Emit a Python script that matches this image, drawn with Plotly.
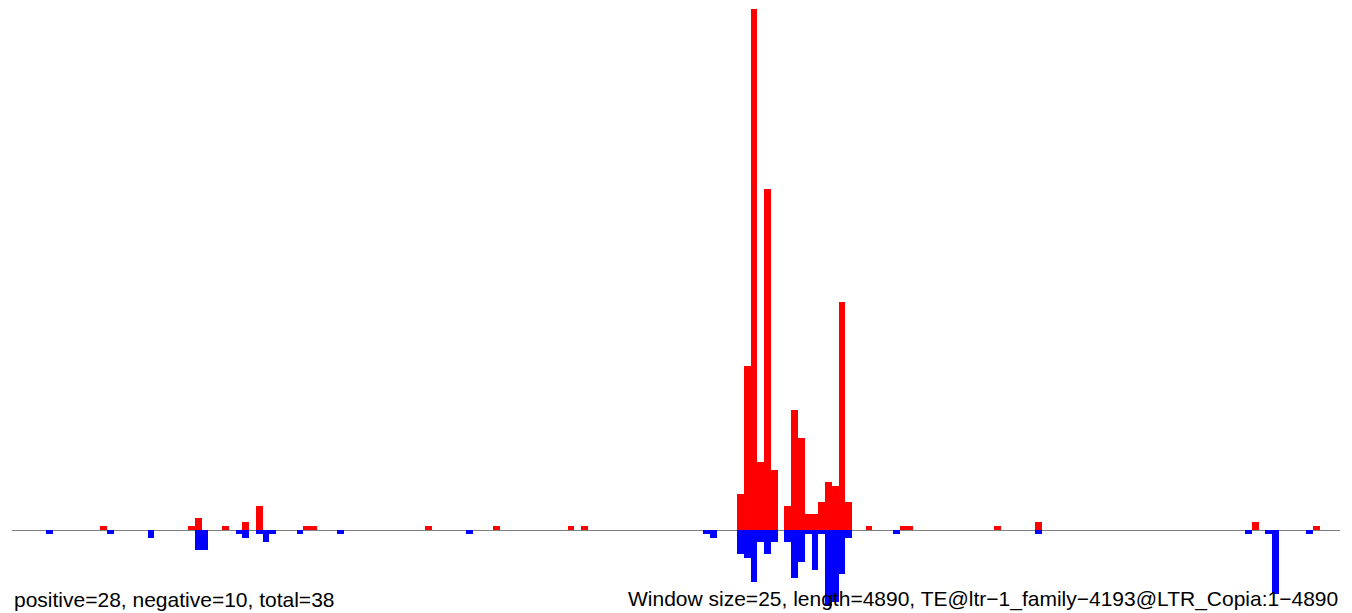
import plotly.graph_objects as go

# window index (window size 25, length 4890 -> 196 windows) and counts
pos_windows = [13, 26, 27, 31, 34, 36, 43, 44, 61, 71, 82, 84,
               107, 108, 109, 110, 111, 112, 114, 115, 116, 117, 118, 119,
               120, 121, 122, 123, 126, 131, 132, 145, 151, 183, 192]
pos_counts = [1, 1, 3, 1, 2, 6, 1, 1, 1, 1, 1, 1,
              9, 41, 130, 17, 85, 15, 6, 30, 23, 4, 4, 7,
              12, 11, 57, 7, 1, 1, 1, 1, 2, 2, 1]

neg_windows = [5, 14, 20, 27, 28, 33, 34, 36, 37, 38, 42, 48, 67, 102, 103,
               107, 108, 109, 110, 111, 112, 114, 115, 116, 117, 118, 119,
               120, 121, 122, 123, 130, 151, 182, 185, 186, 191]
neg_counts = [1, 1, 2, 5, 5, 1, 2, 1, 3, 1, 1, 1, 1, 1, 2,
              6, 7, 13, 3, 6, 3, 3, 12, 8, 1, 10, 1,
              19, 18, 11, 2, 1, 1, 1, 1, 16, 1]

n_windows = 196
left_label = "positive=28, negative=10, total=38"
right_label = "Window size=25, length=4890, TE@ltr\u22121_family\u22124193@LTR_Copia:1\u22124890"

fig = go.Figure()
fig.add_trace(go.Bar(x=[w + 0.5 for w in pos_windows], y=pos_counts, width=1,
                     marker=dict(color="#FF0000", line=dict(width=0)), name="positive"))
fig.add_trace(go.Bar(x=[w + 0.5 for w in neg_windows], y=[-v for v in neg_counts], width=1,
                     marker=dict(color="#0000FF", line=dict(width=0)), name="negative"))

font = dict(family="Liberation Sans, Arial, sans-serif", size=21, color="black")
fig.update_layout(
    width=1352, height=613,
    margin=dict(l=12, r=12, t=9, b=0),
    paper_bgcolor="white", plot_bgcolor="white",
    barmode="overlay", bargap=0, showlegend=False,
    xaxis=dict(range=[0, n_windows], visible=False),
    yaxis=dict(range=[-20.71, 130], showticklabels=False, showgrid=False, ticks="",
               showline=False, zeroline=True, zerolinecolor="#808080", zerolinewidth=1),
    annotations=[
        dict(text=left_label, xref="paper", yref="paper", x=0, y=0,
             xanchor="left", yanchor="bottom", showarrow=False, font=font),
        dict(text=right_label, xref="paper", yref="paper", x=1, y=0,
             xanchor="right", yanchor="bottom", showarrow=False, font=font),
    ],
)
fig.write_html("out.html", config={"displayModeBar": False},
               post_script="document.body.style.margin='0px';document.body.style.overflow='hidden';")
